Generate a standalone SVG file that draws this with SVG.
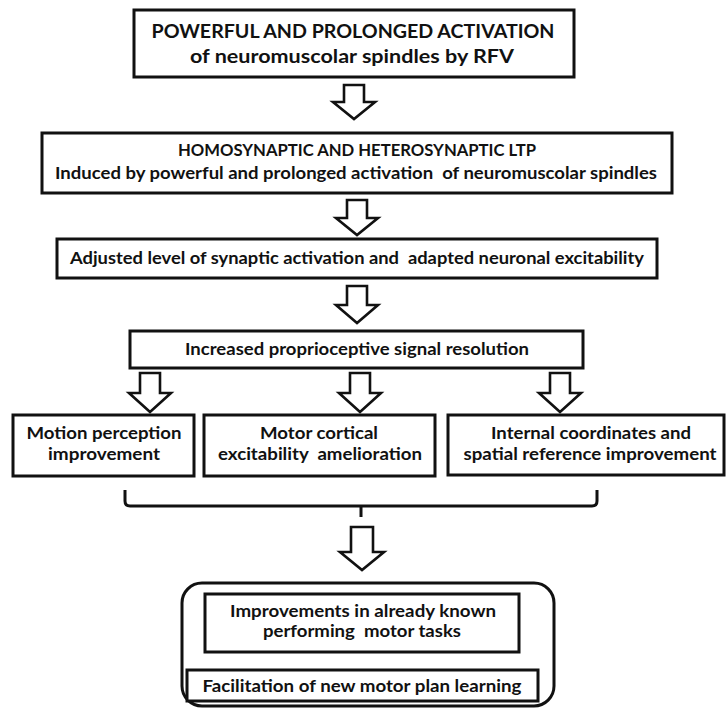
<svg xmlns="http://www.w3.org/2000/svg" width="726" height="708" viewBox="0 0 726 708">
<style>
.box{fill:#fff;stroke:#111;stroke-width:3}
.arr{fill:#fff;stroke:#111;stroke-width:2.6;stroke-linejoin:miter}
.br{fill:none;stroke:#111;stroke-width:3}
text{font-family:Lato,"Open Sans","Liberation Sans",sans-serif;font-weight:bold;fill:#111;text-anchor:middle;white-space:pre}
.t16{font-size:17px}
.t18{font-size:19.5px}
</style>
<rect width="726" height="708" fill="#fff"/>
<g id="connectors">
<path class="arr" d="M344,85 L364,85 L364,102 L375,102 L354,119 L333,102 L344,102 Z"/>
<path class="arr" d="M347,200 L367,200 L367,218 L378,218 L357,235 L336,218 L347,218 Z"/>
<path class="arr" d="M347,286 L367,286 L367,305 L378,305 L357,323 L336,305 L347,305 Z"/>
<path class="arr" d="M140,373 L160,373 L160,393 L171,393 L150,412 L129,393 L140,393 Z"/>
<path class="arr" d="M350,373 L370,373 L370,393 L381,393 L360,412 L339,393 L350,393 Z"/>
<path class="arr" d="M550,373 L570,373 L570,393 L581,393 L560,412 L539,393 L550,393 Z"/>
<path class="br" d="M125,490 L125,501 Q125,506 130,506 L592,506 Q597,506 597,501 L597,490 M361,506 L361,517"/>
<path class="arr" d="M351,527 L373,527 L373,552 L384,552 L362,570 L340,552 L351,552 Z"/>
</g>
<g id="n1">
<rect class="box" x="134" y="10" width="440" height="67"/>
<text class="t18" x="353" y="38" textLength="403" lengthAdjust="spacingAndGlyphs">POWERFUL AND PROLONGED ACTIVATION</text>
<text class="t18" x="352" y="63" textLength="324" lengthAdjust="spacingAndGlyphs">of neuromuscolar spindles by RFV</text>
</g>
<g id="n2">
<rect class="box" x="42" y="133" width="630" height="60"/>
<text class="t16" x="357" y="156" textLength="358" lengthAdjust="spacingAndGlyphs">HOMOSYNAPTIC AND HETEROSYNAPTIC LTP</text>
<text class="t16" x="356" y="179" textLength="602" lengthAdjust="spacingAndGlyphs">Induced by powerful and prolonged activation  of neuromuscolar spindles</text>
</g>
<g id="n3">
<rect class="box" x="57" y="239" width="600" height="39"/>
<text class="t16" x="357" y="264" textLength="574" lengthAdjust="spacingAndGlyphs">Adjusted level of synaptic activation and  adapted neuronal excitability</text>
</g>
<g id="n4">
<rect class="box" x="130" y="331" width="453" height="37"/>
<text class="t16" x="357" y="355" textLength="344" lengthAdjust="spacingAndGlyphs">Increased proprioceptive signal resolution</text>
</g>
<g id="n5">
<rect class="box" x="13" y="415" width="181" height="61"/>
<text class="t16" x="104" y="439" textLength="155" lengthAdjust="spacingAndGlyphs">Motion perception</text>
<text class="t16" x="104" y="460" textLength="112" lengthAdjust="spacingAndGlyphs">improvement</text>
</g>
<g id="n6">
<rect class="box" x="204" y="415" width="231" height="61"/>
<text class="t16" x="319" y="439" textLength="118" lengthAdjust="spacingAndGlyphs">Motor cortical</text>
<text class="t16" x="320" y="460" textLength="204" lengthAdjust="spacingAndGlyphs">excitability  amelioration</text>
</g>
<g id="n7">
<rect class="box" x="448" y="415" width="276" height="60"/>
<text class="t16" x="591" y="439" textLength="200" lengthAdjust="spacingAndGlyphs">Internal coordinates and</text>
<text class="t16" x="590" y="460" textLength="253" lengthAdjust="spacingAndGlyphs">spatial reference improvement</text>
</g>
<g id="n8">
<rect class="box" x="182" y="583" width="372" height="123" rx="20" ry="20"/>
</g>
<g id="n9">
<rect class="box" x="205" y="594" width="314" height="58"/>
<text class="t16" x="363" y="617" textLength="266" lengthAdjust="spacingAndGlyphs">Improvements in already known</text>
<text class="t16" x="362" y="637" textLength="198" lengthAdjust="spacingAndGlyphs">performing  motor tasks</text>
</g>
<g id="n10">
<rect class="box" x="187" y="670" width="351" height="31"/>
<text class="t16" x="362" y="692" textLength="319" lengthAdjust="spacingAndGlyphs">Facilitation of new motor plan learning</text>
</g>
</svg>
